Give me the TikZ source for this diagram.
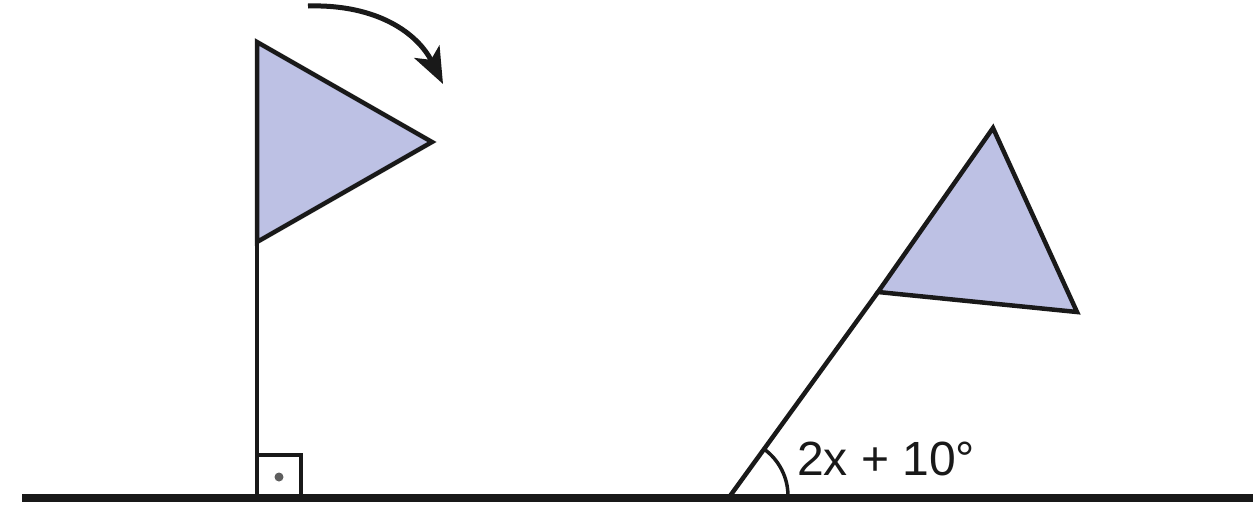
\documentclass[tikz,border=0pt]{standalone}
\usepackage{fontspec}
\setmainfont{Liberation Sans}
\usetikzlibrary{arrows.meta}
\definecolor{flagfill}{RGB}{189,193,228}
\definecolor{ink}{RGB}{25,25,25}
\tikzset{
  pole/.style={draw=ink,line width=4.5pt},
  flag/.style={draw=ink,fill=flagfill,line width=4.5pt,line join=miter},
  ground/.style={draw=ink,line width=8pt},
  thin/.style={draw=ink,line width=3.5pt},
  turn/.style={draw=ink,line width=5pt,-{Stealth[length=36pt,width=28pt,inset=9pt]}},
  lbl/.style={font=\fontsize{48}{52}\selectfont,text=ink,inner sep=0pt}
}
\begin{document}
\begin{tikzpicture}[x=1pt,y=-1pt]
\useasboundingbox (0,0) rectangle (1253,515);
% ground
\coordinate (g1) at (22,498);
\coordinate (g2) at (1253,498);
\draw[ground] (g1) -- (g2);
% left flag
\coordinate (lb) at (257,498);
\coordinate (lt) at (257,42);
\coordinate (lp) at (432,142);
\coordinate (lm) at (257,242);
\draw[pole] (lb) -- (lt);
\draw[flag] (lt) -- (lp) -- (lm) -- cycle;
% right angle mark
\coordinate (r1) at (257,455);
\coordinate (r2) at (301,455);
\coordinate (r3) at (301,498);
\draw[thin] (r1) -- (r2) -- (r3);
\fill[ink!70] (279,477) circle (4.5pt);
% rotation arrow
\coordinate (a1) at (308,6);
\coordinate (a2) at (443,84);
\draw[turn] (a1) .. controls (378,4) and (418,34) .. (a2);
% right flag
\coordinate (rb) at (730,496);
\coordinate (rm) at (878,292);
\coordinate (rt) at (993,128);
\coordinate (rp) at (1077,312);
\draw[pole] (rb) -- (rm);
\draw[flag] (rm) -- (rt) -- (rp) -- cycle;
% angle arc
\draw[thin] (788,496) arc (0:-54:58);
\node[lbl,anchor=west] (ang) at (797,459) {2x + 10°};
\end{tikzpicture}
\end{document}
